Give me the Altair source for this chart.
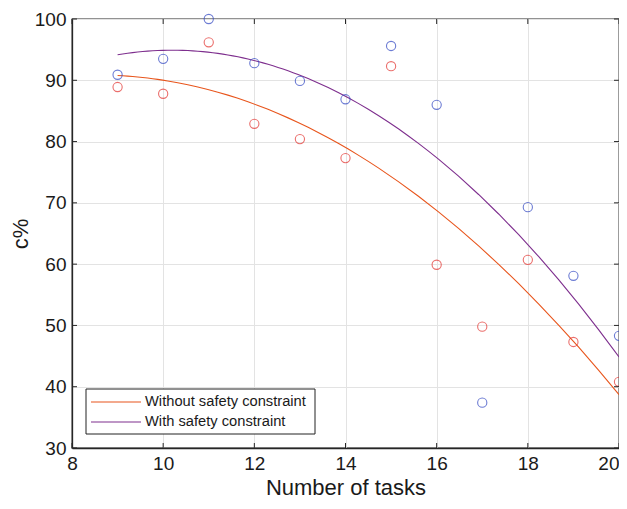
import altair as alt
import pandas as pd

tasks = [9, 10, 11, 12, 13, 14, 15, 16, 17, 18, 19, 20]
without_safety = [88.9, 87.8, 96.2, 82.9, 80.4, 77.3, 92.3, 59.9, 49.8, 60.7, 47.3, 40.8]
with_safety = [90.9, 93.5, 100.0, 92.8, 89.9, 86.9, 95.6, 86.0, 37.4, 69.3, 58.1, 48.3]
series_names = ["Without safety constraint", "With safety constraint"]
line_colors = ["#E8551C", "#7E2F8E"]
x_ticks = [8, 10, 12, 14, 16, 18, 20]
y_ticks = [30, 40, 50, 60, 70, 80, 90, 100]

rows = []
for t, a, b in zip(tasks, without_safety, with_safety):
    rows.append({"tasks": t, "value": a, "series": series_names[0]})
    rows.append({"tasks": t, "value": b, "series": series_names[1]})
df = pd.DataFrame(rows)
xt = pd.DataFrame({"v": x_ticks})
yt = pd.DataFrame({"v": y_ticks})
one = pd.DataFrame({"k": [0]})

W, H = 547, 429
FONT = "Liberation Sans"
TXT = "#1a1a1a"

xs = alt.Scale(domain=[8, 20], nice=False)
ys = alt.Scale(domain=[30, 100], nice=False)

fit = alt.Chart(df).transform_regression(
    "tasks", "value", method="poly", order=2, groupby=["series"], extent=[9, 20]
).mark_line(strokeWidth=1.1, clip=True).encode(
    x=alt.X("tasks:Q", scale=xs,
            axis=alt.Axis(values=x_ticks, title="Number of tasks", grid=True,
                          labelAlign=alt.ConditionalAxisLabelAlign(
                              condition={"test": "datum.value == 20", "value": "right"},
                              value="center"),
                          titleY=46, titleBaseline="alphabetic")),
    y=alt.Y("value:Q", scale=ys,
            axis=alt.Axis(values=y_ticks, title="c%", grid=True,
                          titleX=-45, titleY=H / 2, titleBaseline="alphabetic",
                          titleAlign="center", titleAngle=270)),
    color=alt.Color("series:N",
                    scale=alt.Scale(domain=series_names, range=line_colors),
                    legend=None),
)

pts_red = alt.Chart(df).transform_filter(
    alt.datum.series == series_names[0]
).mark_point(shape="circle", filled=False, size=85, strokeWidth=1.1, color="#E3322E").encode(
    x=alt.X("tasks:Q", scale=xs), y=alt.Y("value:Q", scale=ys))

pts_blue = alt.Chart(df).transform_filter(
    alt.datum.series == series_names[1]
).mark_point(shape="circle", filled=False, size=85, strokeWidth=1.1, color="#2F45C2").encode(
    x=alt.X("tasks:Q", scale=xs), y=alt.Y("value:Q", scale=ys))

tick_col = "#262626"
tb = alt.Chart(xt).mark_rule(color=tick_col, strokeWidth=1).encode(
    x=alt.X("v:Q", scale=xs), y=alt.value(H), y2=alt.value(H - 5))
tt = alt.Chart(xt).mark_rule(color=tick_col, strokeWidth=1).encode(
    x=alt.X("v:Q", scale=xs), y=alt.value(0), y2=alt.value(5))
tl = alt.Chart(yt).mark_rule(color=tick_col, strokeWidth=1).encode(
    y=alt.Y("v:Q", scale=ys), x=alt.value(0), x2=alt.value(5))
tr = alt.Chart(yt).mark_rule(color=tick_col, strokeWidth=1).encode(
    y=alt.Y("v:Q", scale=ys), x=alt.value(W), x2=alt.value(W - 5))

# manual legend box (bottom-left)
LX0, LX1, LY0, LY1 = 14, 243, 370, 415
leg_box = alt.Chart(one).mark_rect(fill="white", stroke="#222222", strokeWidth=1).encode(
    x=alt.value(LX0), x2=alt.value(LX1), y=alt.value(LY0), y2=alt.value(LY1))
leg_items = []
for i, (name, col) in enumerate(zip(series_names, line_colors)):
    yy = 383 + i * 20
    leg_items.append(alt.Chart(one).mark_rule(color=col, strokeWidth=1.2).encode(
        x=alt.value(LX0 + 5), x2=alt.value(LX0 + 55), y=alt.value(yy)))
    leg_items.append(alt.Chart(one).mark_text(
        text=name, align="left", baseline="middle", font=FONT, fontSize=14.7,
        color=TXT).encode(x=alt.value(LX0 + 59), y=alt.value(yy)))

chart = alt.layer(fit, pts_red, pts_blue, tb, tt, tl, tr, leg_box, *leg_items).properties(
    width=W, height=H,
    autosize=alt.AutoSizeParams(type="none"),
    padding={"left": 64, "top": 11, "right": 0, "bottom": 50},
).configure_view(
    stroke=tick_col, strokeWidth=1.3
).configure_axis(
    domainColor=tick_col, domainWidth=1.3, tickSize=0,
    gridColor="#e3e3e3", gridWidth=1,
    labelFont=FONT, labelFontSize=19, labelColor=TXT, labelPadding=6,
    titleFont=FONT, titleFontSize=22, titleColor=TXT, titleFontWeight="normal",
)

chart.save("out.html", embed_options={"renderer": "svg", "actions": False})
